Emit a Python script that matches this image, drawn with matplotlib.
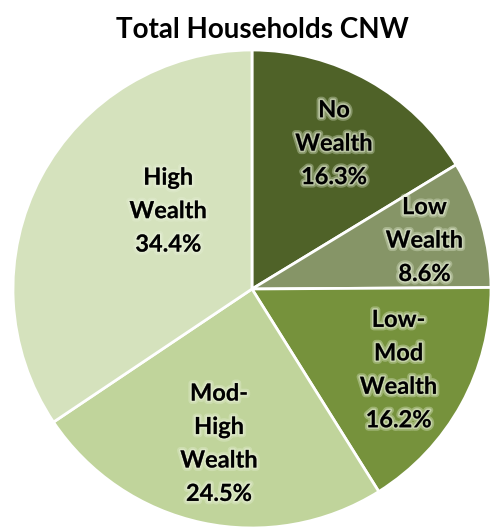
import numpy as np
import matplotlib
matplotlib.use("Agg")
import matplotlib.pyplot as plt
import matplotlib.patheffects as pe

plt.rcParams['font.family'] = ['Lato', 'DejaVu Sans']

categories = ["No\nWealth", "Low\nWealth", "Low-\nMod\nWealth", "Mod-\nHigh\nWealth", "High\nWealth"]
shares = [16.3, 8.6, 16.2, 24.5, 34.4]
colors = ["#4f6228", "#869567", "#76923c", "#c0d49b", "#d5e2bd"]
# label placement (radius fraction, angle shift in degrees from the wedge middle)
label_r = [0.70, 0.75, 0.70, 0.66, 0.48]
label_dang = [0, 0, 0, 0, -15]

fig = plt.figure(figsize=(4.9, 5.29), dpi=100)
ax = fig.add_axes([0.0265, 0.0019, 0.9755, 0.9036])
wedges, _ = ax.pie(shares, colors=colors, startangle=90, counterclock=False,
                   radius=1.0, wedgeprops=dict(edgecolor="white", linewidth=2))
ax.set_xlim(-1.0, 1.0)
ax.set_ylim(-1.0, 1.0)
ax.set_aspect("equal")
ax.axis("off")

glow = [pe.withStroke(linewidth=5, foreground=(0.90, 0.94, 0.84, 0.35)),
        pe.withStroke(linewidth=2.5, foreground=(0.92, 0.95, 0.86, 0.5))]
for w, name, v, r, da in zip(wedges, categories, shares, label_r, label_dang):
    ang = np.deg2rad((w.theta1 + w.theta2) / 2 + da)
    ax.text(r * np.cos(ang), r * np.sin(ang), f"{name}\n{v:.1f}%",
            ha="center", va="center", fontsize=17, fontweight="bold",
            color="black", linespacing=1.55, path_effects=glow)

fig.text(0.535, 0.943, "Total Households CNW", ha="center", va="center",
         fontsize=20, fontweight="bold")

fig.savefig("out.png", dpi=100)
